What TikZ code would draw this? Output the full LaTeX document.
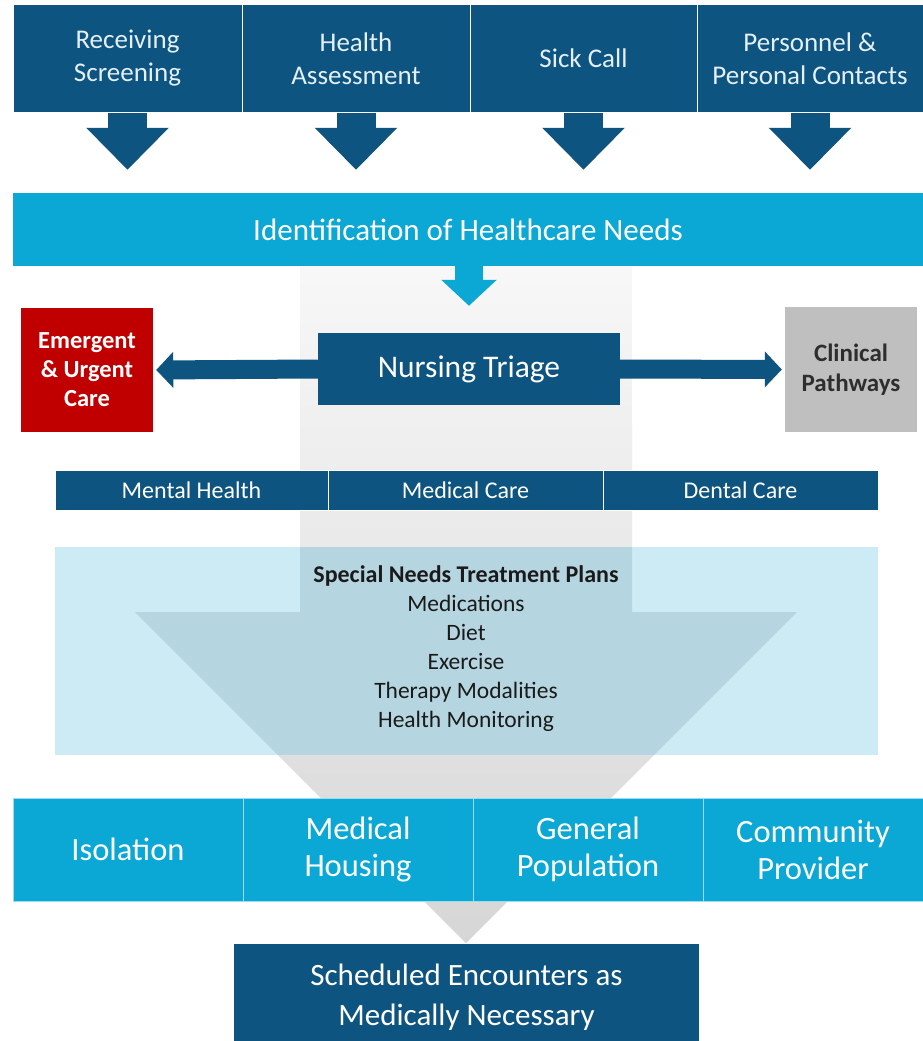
\documentclass[tikz,border=0pt]{standalone}
\usepackage{fontspec}
\setmainfont{Carlito}
\usetikzlibrary{arrows.meta,calc}
\definecolor{dblue}{HTML}{0E5480}
\definecolor{cyanb}{HTML}{0BA8D5}
\definecolor{lblue}{HTML}{CCEBF5}
\definecolor{ovl}{HTML}{B5D6E0}
\definecolor{redb}{HTML}{C00000}
\definecolor{grayb}{HTML}{BFBFBF}
\definecolor{txtl}{HTML}{E4F0F6}
\definecolor{txtd}{HTML}{1A1A1A}
\definecolor{txtg}{HTML}{2E2E2E}
\definecolor{cellline}{HTML}{9ADCF0}
\begin{document}
\begin{tikzpicture}[x=1pt,y=-1pt,
  box/.style={inner sep=0pt, align=center, anchor=center},
  topbox/.style={box, fill=dblue, draw=white, line width=1pt, text=txtl,
     minimum height=107pt, font=\fontsize{27}{33}\selectfont},
  downarrow/.style={dblue, line width=39pt,
     -{Triangle[length=42pt 0 0, width=80pt 0 0]}, shorten >=23pt},
  sidearrow/.style={dblue, line width=19pt,
     -{Triangle[length=17pt 0 0, width=35pt 0 0]}, shorten >=3pt},
  midcell/.style={box, fill=dblue, draw=white, line width=1pt, text=white,
     minimum height=40pt, font=\fontsize{24}{28}\selectfont},
  lowcell/.style={box, fill=cyanb, draw=cellline, line width=1pt, text=white,
     minimum height=103pt, font=\fontsize{32.5}{37}\selectfont}
]
\useasboundingbox (0,0) rectangle (923,1041);
\fill[white] (0,0) rectangle (923,1041);

% big background arrow
\def\bigarrow{(300,266) -- (632,266) -- (632,612) -- (797,612) -- (466,943) -- (135,612) -- (300,612) -- cycle}
\shade[top color=black!3, bottom color=black!16] \bigarrow;

% light blue treatment box
\fill[lblue] (55,547) rectangle (878,755);
\begin{scope}
  \clip \bigarrow;
  \fill[ovl] (55,547) rectangle (878,755);
\end{scope}

% top boxes
\node[topbox, minimum width=229pt] (rs) at (127.5,58.5) {Receiving\\Screening};
\node[topbox, minimum width=228pt] (ha) at (356,58.5) {Health\\Assessment};
\node[topbox, minimum width=227pt] (sc) at (583.5,58.5) {Sick Call};
\node[topbox, minimum width=226pt] (pc) at (810,58.5) {Personnel \&\\Personal Contacts};

% identification bar
\node[box, fill=cyanb, text=white, minimum width=910pt, minimum height=73pt,
      font=\fontsize{31}{37}\selectfont] (id) at (468,229.5) {Identification of Healthcare Needs};

\foreach \b in {rs,ha,sc,pc}
  \draw[downarrow] (\b.south) -- (\b.south |- id.north);

% nursing triage
\node[box, fill=dblue, text=white, minimum width=302pt, minimum height=72pt,
      font=\fontsize{31.5}{36}\selectfont] (nt) at (469,369) {Nursing Triage};

\draw[cyanb, line width=28pt, -{Triangle[length=26pt 0 0, width=54pt 0 0]}, shorten >=27pt]
  (id.south -| nt.north) -- (nt.north);

% side boxes
\node[box, fill=redb, text=white, minimum width=132pt, minimum height=124pt,
      font=\bfseries\fontsize{24.5}{29}\selectfont] (eu) at (87,370) {Emergent\\\& Urgent\\Care};
\node[box, fill=grayb, text=txtg, minimum width=132pt, minimum height=125pt,
      font=\bfseries\fontsize{25}{30}\selectfont] (cp) at (851,369.5) {Clinical\\Pathways};

\draw[sidearrow] (nt.west) -- (eu.east);
\draw[sidearrow] (nt.east) -- (cp.west);

% care types
\node[midcell, minimum width=273pt] (mh) at (191.5,490) {Mental Health};
\node[midcell, minimum width=275pt] (mc) at (465.5,490) {Medical Care};
\node[midcell, minimum width=275pt] (dc) at (740.5,490) {Dental Care};

% treatment plan text
\node[box, text=txtd, font=\fontsize{23.5}{29}\selectfont] (sn) at (466,648.5)
  {{\bfseries\fontsize{24}{29}\selectfont Special Needs Treatment Plans}\\Medications\\Diet\\Exercise\\Therapy Modalities\\Health Monitoring};

% housing row
\node[lowcell, minimum width=230pt] (is) at (128,849.5) {Isolation};
\node[lowcell, minimum width=230pt] (mho) at (358,849.5) {Medical\\Housing};
\node[lowcell, minimum width=230pt] (gp) at (588,849.5) {General\\Population};
\node[lowcell, minimum width=220pt] (cpr) at (813,849.5) {Community\\Provider};

% scheduled encounters
\node[box, fill=dblue, minimum width=465pt, minimum height=97pt] (se) at (466.5,992.5) {};
\node[box, text=white, font=\fontsize{31}{40}\selectfont] (setxt) at (466.5,997)
  {Scheduled Encounters as\\Medically Necessary};
\end{tikzpicture}
\end{document}
